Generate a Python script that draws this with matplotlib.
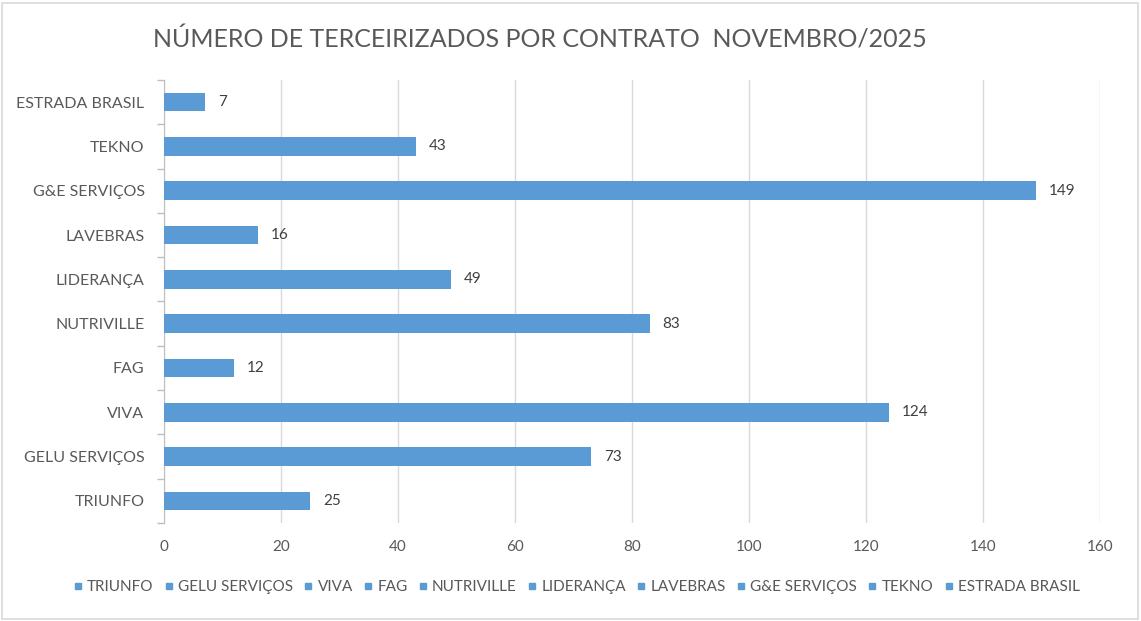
import matplotlib
matplotlib.use("Agg")
import matplotlib.pyplot as plt
from matplotlib.patches import Rectangle
from matplotlib.lines import Line2D

categories = ["TRIUNFO", "GELU SERVIÇOS", "VIVA", "FAG", "NUTRIVILLE",
              "LIDERANÇA", "LAVEBRAS", "G&E SERVIÇOS", "TEKNO", "ESTRADA BRASIL"]
values = [25, 73, 124, 12, 83, 49, 16, 149, 43, 7]
xticks = [0, 20, 40, 60, 80, 100, 120, 140, 160]
title = "NÚMERO DE TERCEIRIZADOS POR CONTRATO  NOVEMBRO/2025"

BAR = "#5B9BD5"
TXT = "#595959"
plt.rcParams['font.family'] = ['Lato', 'DejaVu Sans']

fig = plt.figure(figsize=(11.41, 6.21), dpi=100)
ax = fig.add_axes([164/1141, 1-523/621, 936/1141, 443/621])

pos = list(range(len(categories)))
ax.barh(pos, values, height=0.42, color=BAR, zorder=3)
for p, v in zip(pos, values):
    ax.text(v + 2.2, p, str(v), va='center', ha='left', fontsize=11, color="#404040")

ax.set_xlim(0, 160)
ax.set_ylim(-0.5, len(categories) - 0.5)
ax.set_xticks(xticks)
ax.set_xticklabels([str(t) for t in xticks], fontsize=11, color=TXT)
ax.set_yticks(pos)
ax.set_yticklabels(categories, fontsize=11.5, color=TXT)
ax.set_yticks([p - 0.5 for p in pos] + [len(pos) - 0.5], minor=True)
ax.tick_params(axis='y', which='major', length=0, pad=14)
ax.tick_params(axis='y', which='minor', length=5, color="#BFBFBF", width=1)
ax.tick_params(axis='x', length=0, pad=12)
ax.grid(axis='x', color="#D9D9D9", linewidth=1, zorder=0)
for s in ['top', 'right', 'bottom']:
    ax.spines[s].set_visible(False)
ax.spines['left'].set_color("#BFBFBF")

fig.text(540/1141, 1-40/621, title, ha='center', va='center', fontsize=18, color=TXT)

handles = [Line2D([], [], marker='s', linestyle='none', markersize=5,
                  color=BAR) for _ in categories]
fig.legend(handles, categories, loc='center', bbox_to_anchor=(575/1141, 1-587/621),
           ncol=len(categories), frameon=False, fontsize=11, labelcolor=TXT,
           handletextpad=0.1, columnspacing=0.5, handlelength=1.0)

fig.patches.append(Rectangle((2/1141, 2/621), 1136/1141, 616/621, transform=fig.transFigure,
                             fill=False, edgecolor="#D9D9D9", linewidth=1.2))

fig.savefig("out.png", dpi=100)
